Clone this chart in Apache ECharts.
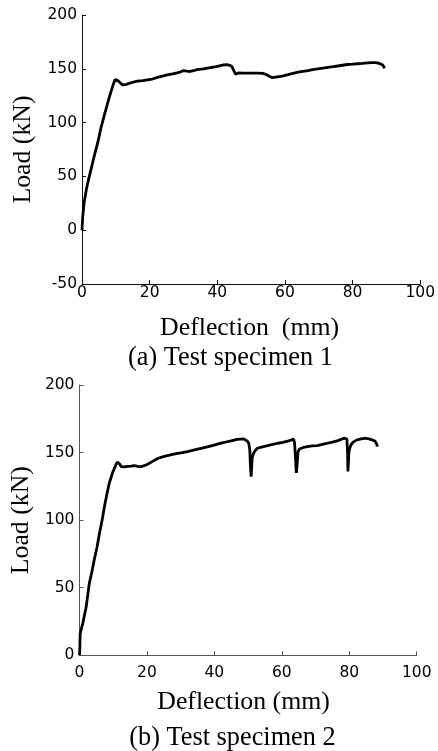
<!DOCTYPE html>
<html>
<head>
<meta charset="utf-8">
<title>Load-deflection curves</title>
<script src="https://cdn.jsdelivr.net/npm/echarts@6/dist/echarts.min.js"></script>
<style>
  html, body { margin: 0; padding: 0; background: #fff; }
  #chart { width: 438px; height: 751px; }
</style>
</head>
<body>
<div id="chart"></div>
<script>
// Specimen 1: deflection (mm), load (kN)
const specimen1 = [
  [0,0],[0.2,12],[0.6,25],[1.3,38],[2.0,48],[2.7,57],[3.7,70],[4.7,82],[5.6,95],[6.6,107],
  [7.4,116],[8.1,124],[8.7,130],[9.3,136],[9.8,140],[10.1,140.3],[10.6,139],[11.3,137],[12,135],
  [12.8,135.2],[13.5,136],[15,137.5],[16.4,138.6],[18,139],[19.3,139.8],[20.8,140.5],[22.3,142],
  [23.8,143.2],[25.2,144.3],[26.8,145.3],[28.1,146.3],[29.2,147.2],[30,148.3],[31,147.8],[32,147.5],
  [33,148.2],[34,149.2],[35.9,150],[37.9,151],[39.8,152],[41,153],[41.8,153.6],[42.8,153.8],
  [43.7,153.2],[44.3,152.2],[44.7,150.5],[45,147.5],[45.4,145],[45.8,144.8],[46.2,146.2],[47.7,146],
  [50,146],[52,146],[53.5,145.8],[54.6,144.5],[55.5,142.8],[56.3,141.8],[57.2,142.3],[58,142.6],
  [59.5,143.5],[60.9,144.5],[62.4,145.8],[63.9,146.8],[65.3,147.6],[66.8,148.4],[68.2,149.2],
  [69.7,150],[71.2,150.7],[72.7,151.4],[74.2,152],[75.6,152.6],[77,153.3],[78.5,154],[80,154.3],
  [81.4,154.7],[82.9,155.1],[84.4,155.6],[85.8,155.8],[86.8,155.7],[87.6,155.3],[88.3,154.6],
  [88.9,153.5],[89.3,152],[89.5,150.5]
];

// Specimen 2: deflection (mm), load (kN)
const specimen2 = [
  [0,0],[0.1,5],[0.2,16],[0.6,20],[1,24],[1.5,30],[2,36],[2.9,53],[3.7,62],[4.4,71],[5.2,80],
  [5.9,90],[6.7,100],[7.4,110],[8.1,119],[8.8,127],[9.3,131],[9.8,135],[10.3,138],[10.8,141],
  [11.2,143],[11.5,143.5],[11.9,141.5],[12.4,139.6],[13.3,139.4],[14.3,139.8],[15.3,140],
  [16.3,140.4],[17.3,139.8],[18.3,139.6],[19.2,140.3],[20.2,141.4],[21.7,143.5],[23.2,145.6],
  [24.6,146.8],[26.1,147.8],[27.6,148.6],[29.1,149.4],[30.5,150],[32,150.7],[33.5,151.6],
  [35,152.5],[36.4,153.3],[37.9,154.2],[39.4,155.2],[40.9,156.2],[42.3,157.1],[43.8,158],
  [45.3,158.9],[46.8,159.7],[47.8,160],[48.7,160.1],[49.7,158.6],[50.2,157],[50.5,152],[50.7,140],
  [50.9,132.2],[51.1,141],[51.2,146],[51.6,149.5],[52.2,151.8],[52.8,153.2],[54.3,154.2],
  [55.8,155.2],[57.3,156],[58.8,156.9],[60.3,157.6],[61.7,158.4],[62.7,159.2],[63.5,160],
  [63.8,157],[64.0,148],[64.3,135],[64.5,134.5],[64.6,143],[64.8,150.5],[65.2,152.6],[66.4,153.8],
  [67.6,154.4],[69,155],[70.5,155.2],[72,156],[73.5,156.9],[75,157.8],[76.4,158.6],[77.4,159.6],
  [78.4,160.6],[79.3,160.2],[79.5,150],[79.6,136],[79.7,140],[79.9,150.7],[80.3,154.5],[80.8,156.9],
  [81.5,158.3],[82.3,159.4],[83.5,160.2],[84.8,160.6],[85.8,160.1],[86.8,159.4],[87.6,158.6],
  [88,157.7],[88.2,156],[88.3,154.4]
];

// Axis ranges and captions
const xRange = [0, 100];
const xStep = 20;
const yRange1 = [-50, 200];
const yRange2 = [0, 200];
const yStep = 50;
const xTitle1 = 'Deflection  (mm)';
const xTitle2 = 'Deflection (mm)';
const yTitle = 'Load (kN)';
const caption1 = '(a) Test specimen 1';
const caption2 = '(b) Test specimen 2';

const tickFont = { fontFamily: 'DejaVu Sans', fontSize: 15.5, color: '#000' };
const titleFont = { fontFamily: 'Liberation Serif', fontSize: 25.8, color: '#000' };

function xAxisFor(gridIndex, name, nameGap, labelMargin, axisColor, shiftLeft) {
  return {
    type: 'value', gridIndex, min: xRange[0], max: xRange[1], interval: xStep,
    name, nameLocation: 'middle', nameGap,
    nameTextStyle: Object.assign({ padding: [0, shiftLeft * 2, 0, 0] }, titleFont),
    axisLine: { show: true, onZero: false, lineStyle: { color: axisColor, width: 1 } },
    axisTick: { show: true, inside: true, length: 4, lineStyle: { color: axisColor } },
    axisLabel: Object.assign({ margin: labelMargin }, tickFont),
    splitLine: { show: false }
  };
}

function yAxisFor(gridIndex, range, nameGap, axisColor) {
  return {
    type: 'value', gridIndex, min: range[0], max: range[1], interval: yStep,
    name: yTitle, nameLocation: 'middle', nameGap, nameRotate: 90,
    nameTextStyle: Object.assign({}, titleFont),
    axisLine: { show: true, onZero: false, lineStyle: { color: axisColor, width: 1 } },
    axisTick: { show: true, inside: true, length: 4, lineStyle: { color: axisColor } },
    axisLabel: Object.assign({ margin: 5 }, tickFont),
    splitLine: { show: false }
  };
}

const chart = echarts.init(document.getElementById('chart'), null, { renderer: 'canvas' });

chart.setOption({
  animation: false,
  backgroundColor: '#fff',
  grid: [
    { left: 82, top: 15, width: 341.3, height: 269 },
    { left: 77.3, top: 385, width: 339.4, height: 270.3 }
  ],
  xAxis: [
    xAxisFor(0, xTitle1, 31, 1, '#111', 1.5),
    xAxisFor(1, xTitle2, 34, 10, '#555', 4.5)
  ],
  yAxis: [
    yAxisFor(0, yRange1, 41.5, '#111'),
    yAxisFor(1, yRange2, 43.5, '#555')
  ],
  series: [
    {
      type: 'line', xAxisIndex: 0, yAxisIndex: 0, data: specimen1,
      showSymbol: false, smooth: false,
      lineStyle: { color: '#000', width: 2.8 }
    },
    {
      type: 'line', xAxisIndex: 1, yAxisIndex: 1, data: specimen2,
      showSymbol: false, smooth: false,
      lineStyle: { color: '#000', width: 2.8 }
    }
  ],
  graphic: [
    {
      type: 'text', x: 230.5, y: 345,
      style: { text: caption1, fill: '#000', align: 'center',
        font: '26.3px "Liberation Serif"' }
    },
    {
      type: 'text', x: 232.5, y: 725,
      style: { text: caption2, fill: '#000', align: 'center',
        font: '26.3px "Liberation Serif"' }
    }
  ]
});
</script>
</body>
</html>
